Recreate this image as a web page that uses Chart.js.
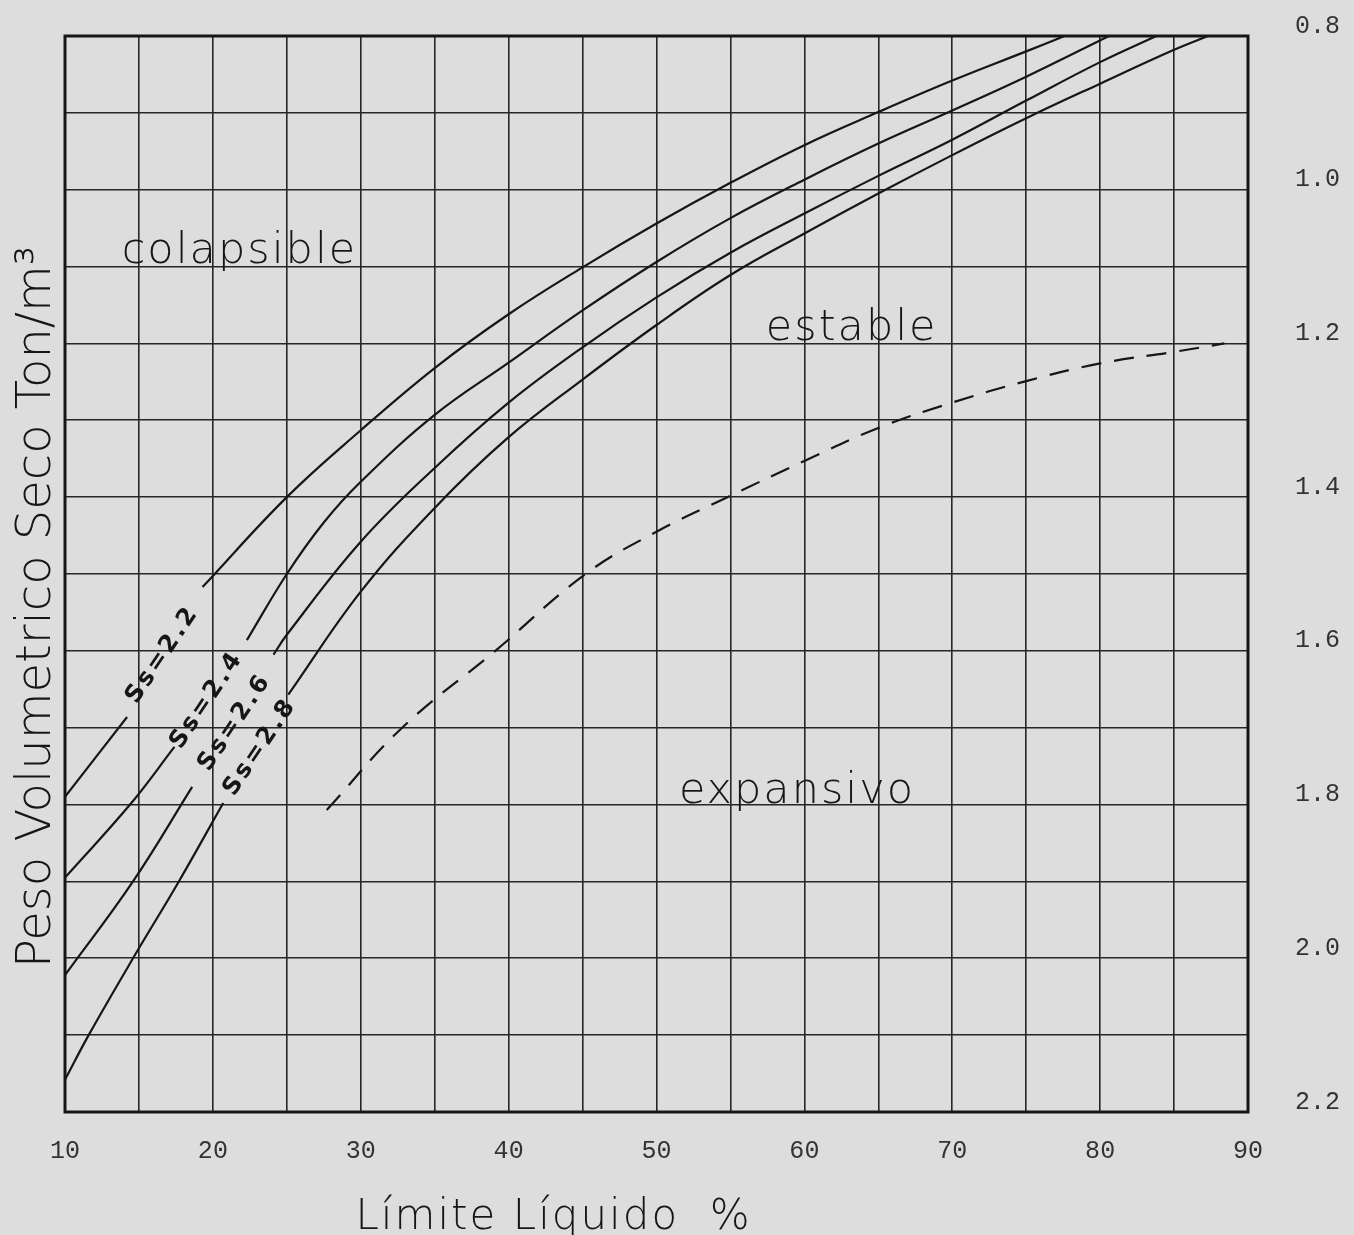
<!DOCTYPE html>
<html>
<head>
<meta charset="utf-8">
<script src="https://cdn.jsdelivr.net/npm/chart.js@4.4.1/dist/chart.umd.min.js"></script>
<style>
  html, body { margin: 0; padding: 0; background: #dddddd; }
  canvas { display: block; }
</style>
</head>
<body>
<canvas id="grafico" width="1354" height="1235"></canvas>
<script>
// Carta: limite liquido (%) vs peso volumetrico seco (ton/m3)
const xTickLabels = [10, 20, 30, 40, 50, 60, 70, 80, 90];
const yTickLabels = ["0.8", "1.0", "1.2", "1.4", "1.6", "1.8", "2.0", "2.2"];

// curvas Ss, cada una partida en dos tramos por la etiqueta
const ss22BajoLL = [10, 14.2];
const ss22BajoPV = [1.79, 1.686];
const ss22AltoLL = [19.3, 25, 30, 35, 40, 45, 50, 55, 60, 65, 70, 75, 77.6];
const ss22AltoPV = [1.517, 1.40, 1.313, 1.232, 1.162, 1.101, 1.044, 0.991, 0.942, 0.899, 0.858, 0.82, 0.80];

const ss24BajoLL = [10, 14.4, 17.4];
const ss24BajoPV = [1.895, 1.80, 1.725];
const ss24AltoLL = [22.3, 25, 27.5, 30, 35, 40, 45, 50, 55, 60, 65, 70, 75, 80.6];
const ss24AltoPV = [1.586, 1.50, 1.433, 1.38, 1.293, 1.225, 1.157, 1.094, 1.037, 0.987, 0.94, 0.897, 0.853, 0.80];

const ss26BajoLL = [10, 14.6, 18.6];
const ss26BajoPV = [2.022, 1.90, 1.777];
const ss26AltoLL = [24.1, 25, 30, 35, 40, 45, 50, 55, 60, 65, 70, 75, 80, 83.8];
const ss26AltoPV = [1.605, 1.579, 1.458, 1.362, 1.277, 1.205, 1.14, 1.082, 1.031, 0.982, 0.935, 0.884, 0.834, 0.80];

const ss28BajoLL = [10, 11.6, 14.6, 17.7, 20.7];
const ss28BajoPV = [2.158, 2.10, 2.00, 1.90, 1.798];
const ss28AltoLL = [25.1, 30, 35, 40, 45, 50, 55, 60, 65, 70, 75, 80, 85, 87.3];
const ss28AltoPV = [1.657, 1.523, 1.414, 1.322, 1.247, 1.176, 1.111, 1.057, 1.005, 0.955, 0.907, 0.862, 0.818, 0.80];

// linea punteada (limite expansivo)
const limiteLL = [27.7, 32.8, 39.1, 45.2, 50, 54.8, 60, 65, 70, 75, 80, 85, 88.4];
const limitePV = [1.807, 1.70, 1.60, 1.50, 1.445, 1.40, 1.353, 1.31, 1.277, 1.249, 1.226, 1.211, 1.20];

// textos dentro de la carta (en unidades de la carta)
const zonas = ["colapsible", "estable", "expansivo"];
const zonasLL = [21.8, 63.2, 59.5];
const zonasPV = [1.095, 1.196, 1.798];

const curvasSs = ["Ss=2.2", "Ss=2.4", "Ss=2.6", "Ss=2.8"];
const curvasSsLL = [16.6, 19.6, 21.5, 23.2];
const curvasSsPV = [1.605, 1.664, 1.693, 1.725];

const FONDO = "#dddddd";
const TINTA = "#161616";
const LETRA_FINA = "'DejaVu Sans ExtraLight', 'DejaVu Sans', sans-serif";
const LETRA_MAQUINA = "'Liberation Mono', 'DejaVu Sans Mono', monospace";

function puntos(xs, ys) {
  return xs.map((x, i) => ({ x: x, y: ys[i] }));
}

function curva(xs, ys, punteada) {
  return {
    data: puntos(xs, ys),
    borderColor: TINTA,
    borderWidth: 2.2,
    borderDash: punteada ? [20, 13] : [],
    pointRadius: 0,
    fill: false,
    tension: 0.4,
  };
}

// sin relleno extra por los rotulos de los ejes
function sinRelleno(s) {
  s.paddingTop = 0;
  s.paddingBottom = 0;
  s.paddingLeft = 0;
  s.paddingRight = 0;
}

const rotulos = {
  id: "rotulos",
  beforeDraw(chart) {
    const ctx = chart.ctx;
    ctx.save();
    ctx.fillStyle = FONDO;
    ctx.fillRect(0, 0, chart.width, chart.height);
    ctx.restore();
  },
  afterDatasetsDraw(chart) {
    const ctx = chart.ctx;
    const a = chart.chartArea;
    const sx = chart.scales.x;
    const sy = chart.scales.y;

    ctx.save();
    // marco
    ctx.strokeStyle = TINTA;
    ctx.lineWidth = 3;
    ctx.strokeRect(a.left, a.top, a.right - a.left, a.bottom - a.top);

    ctx.fillStyle = TINTA;
    ctx.textAlign = "center";
    ctx.textBaseline = "alphabetic";

    // zonas
    ctx.font = "200 43px " + LETRA_FINA;
    ctx.letterSpacing = "2px";
    zonas.forEach((t, i) => {
      ctx.fillText(t, sx.getPixelForValue(zonasLL[i]), sy.getPixelForValue(zonasPV[i]));
    });

    // etiquetas Ss, giradas sobre la curva
    ctx.font = "bold 24px 'DejaVu Sans', sans-serif";
    ctx.letterSpacing = "3px";
    ctx.textBaseline = "middle";
    curvasSs.forEach((t, i) => {
      ctx.save();
      ctx.translate(sx.getPixelForValue(curvasSsLL[i]), sy.getPixelForValue(curvasSsPV[i]));
      ctx.rotate(-56 * Math.PI / 180);
      ctx.fillText(t, 0, 0);
      ctx.restore();
    });

    // titulo eje y
    ctx.font = "200 48px " + LETRA_FINA;
    ctx.letterSpacing = "0px";
    ctx.textBaseline = "alphabetic";
    ctx.save();
    ctx.translate(50, 607);
    ctx.rotate(-Math.PI / 2);
    ctx.fillText("Peso Volumetrico Seco Ton/m³", 0, 0);
    ctx.restore();

    // titulo eje x
    ctx.font = "200 42px " + LETRA_FINA;
    ctx.letterSpacing = "2px";
    ctx.fillText("Límite Líquido  %", a.left + (a.right - a.left) * 0.413, 1229);
    ctx.restore();
  },
};

new Chart(document.getElementById("grafico"), {
  type: "line",
  data: {
    datasets: [
      curva(ss22BajoLL, ss22BajoPV),
      curva(ss22AltoLL, ss22AltoPV),
      curva(ss24BajoLL, ss24BajoPV),
      curva(ss24AltoLL, ss24AltoPV),
      curva(ss26BajoLL, ss26BajoPV),
      curva(ss26AltoLL, ss26AltoPV),
      curva(ss28BajoLL, ss28BajoPV),
      curva(ss28AltoLL, ss28AltoPV),
      curva(limiteLL, limitePV, true),
    ],
  },
  options: {
    responsive: false,
    animation: false,
    layout: { padding: { left: 65, top: 36, right: 0, bottom: 0 } },
    plugins: {
      legend: { display: false },
      tooltip: { enabled: false },
    },
    scales: {
      x: {
        type: "linear",
        position: "bottom",
        min: 10,
        max: 90,
        afterFit: (s) => { s.height = 123; sinRelleno(s); },
        ticks: {
          stepSize: 5,
          autoSkip: false,
          maxRotation: 0,
          padding: 24,
          color: "#333",
          font: { family: LETRA_MAQUINA, size: 25 },
          callback: (v) => (xTickLabels.includes(v) ? String(v) : ""),
        },
        grid: { color: "#262626", lineWidth: 1.6, drawTicks: false },
        border: { display: false },
      },
      y: {
        type: "linear",
        position: "right",
        reverse: true,
        min: 0.8,
        max: 2.2,
        afterFit: (s) => { s.width = 106; sinRelleno(s); },
        ticks: {
          stepSize: 0.1,
          autoSkip: false,
          padding: 47,
          labelOffset: -10,
          color: "#333",
          font: { family: LETRA_MAQUINA, size: 25 },
          callback: (v) => {
            const t = v.toFixed(1);
            return yTickLabels.includes(t) ? t : "";
          },
        },
        grid: { color: "#262626", lineWidth: 1.6, drawTicks: false },
        border: { display: false },
      },
    },
  },
  plugins: [rotulos],
});
</script>
</body>
</html>
